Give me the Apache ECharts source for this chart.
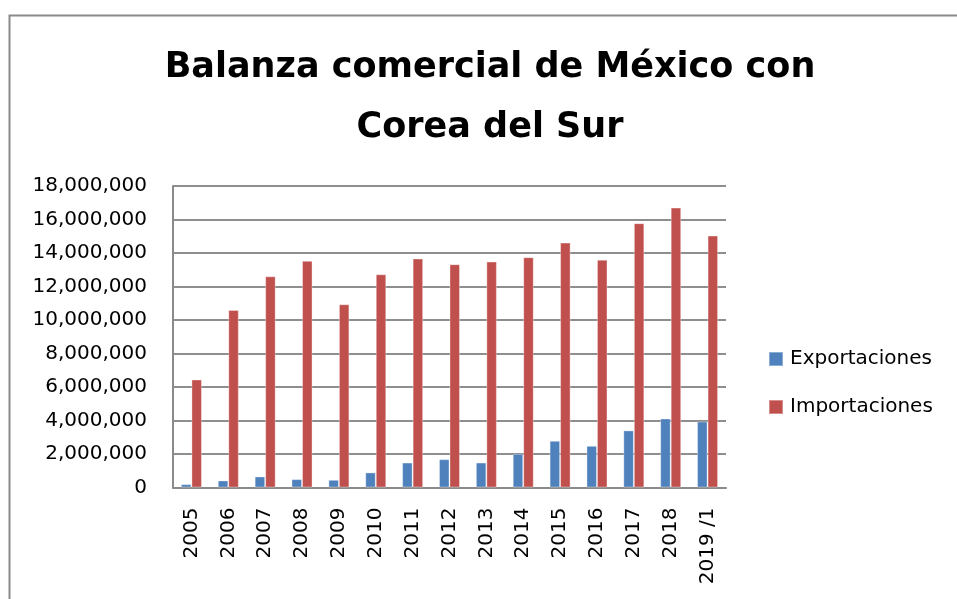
<!DOCTYPE html>
<html>
<head>
<meta charset="utf-8">
<title>Balanza comercial de México con Corea del Sur</title>
<script src="https://cdn.jsdelivr.net/npm/echarts@6/dist/echarts.min.js"></script>
<style>
	html, body { margin: 0; padding: 0; background: #fff; }
	#chart { width: 957px; height: 599px; }
</style>
</head>
<body>
<div id="chart"></div>
<script>
var years = ['2005', '2006', '2007', '2008', '2009', '2010', '2011', '2012', '2013', '2014', '2015', '2016', '2017', '2018', '2019 /1'];
var exportaciones = [200000, 420000, 660000, 500000, 460000, 900000, 1490000, 1690000, 1490000, 2010000, 2790000, 2490000, 3410000, 4120000, 3940000];
var importaciones = [6450000, 10600000, 12610000, 13530000, 10940000, 12730000, 13670000, 13330000, 13490000, 13750000, 14620000, 13600000, 15780000, 16710000, 15040000];
var seriesNames = ['Exportaciones', 'Importaciones'];

var _font = 'DejaVu Sans';

function fmtNum(v) {
	return Number(v).toLocaleString('en-US');
}

var chart = echarts.init(document.getElementById('chart'), null, { renderer: 'canvas' });

chart.setOption({
	animation: false,
	textStyle: { fontFamily: _font },
	color: ['#4F81BD', '#C0504D'],
	title: {
		text: 'Balanza comercial de México con\nCorea del Sur',
		left: 490,
		top: 38,
		textAlign: 'center',
		padding: 0,
		textStyle: {
			fontFamily: _font,
			fontWeight: 'bold',
			fontSize: 35,
			lineHeight: 60,
			color: '#000'
		}
	},
	// chart frame (only top + left edge visible in the reference)
	graphic: [{
		type: 'rect',
		silent: true,
		shape: { x: 9.5, y: 15.5, width: 1200, height: 1200 },
		style: { fill: 'none', stroke: '#8a8a8a', lineWidth: 2 }
	}],
	legend: {
		orient: 'vertical',
		left: 768,
		top: 349,
		padding: 0,
		itemWidth: 14,
		itemHeight: 14,
		itemGap: 28,
		icon: 'rect',
		data: seriesNames,
		textStyle: { fontFamily: _font, fontSize: 20, color: '#000', padding: [0, 0, 0, 2] }
	},
	grid: {
		left: 173,
		right: 231,
		top: 186,
		bottom: 111.5,
		containLabel: false,
		outerBoundsMode: 'none'
	},
	xAxis: {
		type: 'category',
		data: years,
		axisLine: { lineStyle: { color: '#8a8a8a', width: 2 } },
		axisTick: { show: false },
		axisLabel: {
			rotate: 90,
			margin: 20,
			interval: 0,
			fontFamily: _font,
			fontSize: 20,
			color: '#000'
		}
	},
	yAxis: {
		type: 'value',
		min: 0,
		max: 18000000,
		interval: 2000000,
		axisLine: { show: true, lineStyle: { color: '#8a8a8a', width: 2 } },
		axisTick: { show: false },
		splitLine: { lineStyle: { color: '#8e8e8e', width: 2 } },
		axisLabel: {
			margin: 26,
			fontFamily: _font,
			fontSize: 20,
			color: '#000',
			formatter: fmtNum
		}
	},
	series: [
		{
			name: seriesNames[0],
			type: 'bar',
			barGap: '0%',
			barCategoryGap: '43%',
			itemStyle: { borderColor: 'rgba(255,255,255,0.35)', borderWidth: 1 },
			data: exportaciones
		},
		{
			name: seriesNames[1],
			type: 'bar',
			barGap: '0%',
			barCategoryGap: '43%',
			itemStyle: { borderColor: 'rgba(255,255,255,0.35)', borderWidth: 1 },
			data: importaciones
		}
	]
});
</script>
</body>
</html>
